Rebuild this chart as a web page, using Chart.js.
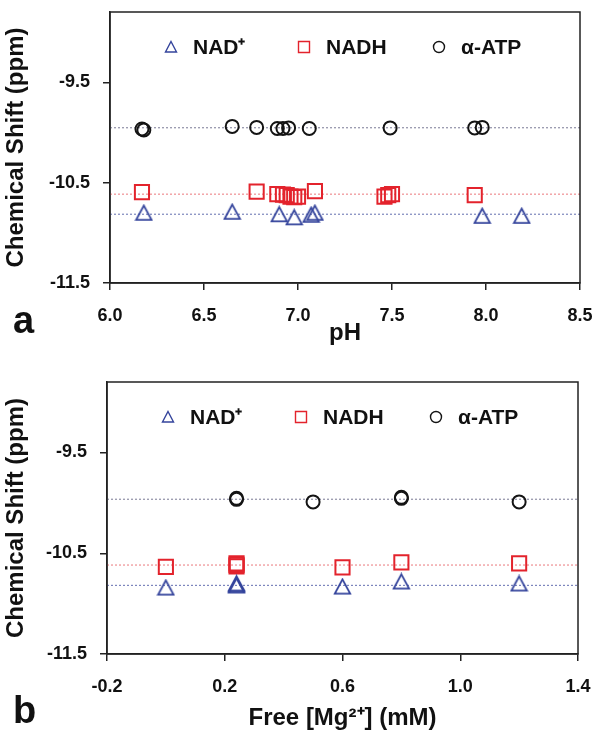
<!DOCTYPE html>
<html>
<head>
<meta charset="utf-8">
<title>Chemical shift vs pH and free Mg2+</title>
<script src="https://cdn.jsdelivr.net/npm/chart.js"></script>
<style>
  body { margin: 0; background: #fff; }
  .panel { position: relative; width: 602px; }
  #panelA { height: 370px; }
  #panelB { height: 371px; }
</style>
</head>
<body>
<div class="panel" id="panelA"><canvas id="chartA"></canvas></div>
<div class="panel" id="panelB"><canvas id="chartB"></canvas></div>
<script>
const FONT = "'Liberation Sans', Arial, sans-serif";

const seriesNames = ['NAD⁺', 'NADH', 'α-ATP'];
const shiftTicks = [-11.5, -10.5, -9.5];

// panel a: pH
const phTicks = [6.0, 6.5, 7.0, 7.5, 8.0, 8.5];
const phNadX = [6.18, 6.65, 6.90, 6.98, 7.07, 7.09, 7.98, 8.19];
const phNadY = [-10.80, -10.79, -10.815, -10.845, -10.82, -10.80, -10.83, -10.83];
const phNadhX = [6.17, 6.78, 6.89, 6.92, 6.94, 6.96, 6.98, 7.00, 7.09, 7.46, 7.48, 7.50, 7.94];
const phNadhY = [-10.595, -10.59, -10.615, -10.62, -10.625, -10.64, -10.645, -10.64, -10.585, -10.64, -10.625, -10.615, -10.625];
const phAtpX = [6.17, 6.18, 6.65, 6.78, 6.89, 6.92, 6.95, 7.06, 7.49, 7.94, 7.98];
const phAtpY = [-9.965, -9.975, -9.94, -9.95, -9.96, -9.96, -9.955, -9.96, -9.955, -9.955, -9.95];
const phMeanLines = [-10.815, -10.615, -9.953]; // NAD+, NADH, ATP

// panel b: free Mg2+
const mgTicks = [-0.2, 0.2, 0.6, 1.0, 1.4];
const mgNadX = [0.0, 0.24, 0.24, 0.24, 0.6, 0.8, 1.2];
const mgNadY = [-10.84, -10.80, -10.82, -10.81, -10.83, -10.78, -10.80];
const mgNadhX = [0.0, 0.24, 0.24, 0.24, 0.6, 0.8, 1.2];
const mgNadhY = [-10.635, -10.60, -10.615, -10.63, -10.64, -10.59, -10.60];
const mgAtpX = [0.24, 0.24, 0.5, 0.8, 0.8, 1.2];
const mgAtpY = [-9.955, -9.965, -9.99, -9.945, -9.955, -9.99];
const mgMeanLines = [-10.819, -10.617, -9.964];

const markColors = ['#34449c', '#e3232c', '#141414'];
const lineColors = ['#7d86bd', '#ee8e92', '#8f8fa6'];

// triangle drawn centred on its box (like the original markers)
function triangleImage(w, h, color, lw) {
  const c = document.createElement('canvas');
  c.width = Math.ceil(w + lw * 2);
  c.height = Math.ceil(h + lw * 2);
  const g = c.getContext('2d');
  g.strokeStyle = color;
  g.lineWidth = lw;
  g.beginPath();
  g.moveTo(c.width / 2, lw);
  g.lineTo(c.width - lw, c.height - lw);
  g.lineTo(lw, c.height - lw);
  g.closePath();
  g.stroke();
  return c;
}
const triMark = triangleImage(15, 13.5, markColors[0], 1.8);

function pts(xs, ys) {
  return xs.map((x, i) => ({ x, y: ys[i] }));
}

function hline(y, x0, x1) {
  return [{ x: x0, y }, { x: x1, y }];
}

// legend inside plot + frame + panel letter
const decorPlugin = {
  id: 'decor',
  afterDraw(chart, args, opts) {
    const ctx = chart.ctx;
    const a = chart.chartArea;
    ctx.save();
    ctx.strokeStyle = '#222';
    ctx.lineWidth = 1.5;
    ctx.strokeRect(a.left, a.top, a.right - a.left, a.bottom - a.top);

    const ly = a.top + 35;
    const offs = [61, 194, 329];
    ctx.lineWidth = 1.4;
    offs.forEach((o, i) => {
      const cx = a.left + o;
      ctx.strokeStyle = markColors[i];
      ctx.beginPath();
      if (i === 0) {
        ctx.moveTo(cx, ly - 5.5);
        ctx.lineTo(cx + 5.5, ly + 5);
        ctx.lineTo(cx - 5.5, ly + 5);
        ctx.closePath();
      } else if (i === 1) {
        ctx.rect(cx - 5.5, ly - 5.5, 11, 11);
      } else {
        ctx.arc(cx, ly, 5.5, 0, Math.PI * 2);
      }
      ctx.stroke();
      ctx.fillStyle = '#111';
      ctx.font = 'bold 21px ' + FONT;
      ctx.textBaseline = 'middle';
      ctx.textAlign = 'left';
      ctx.fillText(seriesNames[i], cx + 22, ly + 1);
    });

    ctx.font = 'bold 38px ' + FONT;
    ctx.textBaseline = 'alphabetic';
    ctx.fillStyle = '#111';
    ctx.fillText(opts.letter, 13, opts.letterY);
    ctx.restore();
  }
};

function makeChart(id, cfg) {
  const datasets = [
    { label: seriesNames[0], data: pts(cfg.nadX, cfg.nadY), pointStyle: triMark, order: 1 },
    { label: seriesNames[1], data: pts(cfg.nadhX, cfg.nadhY), pointStyle: 'rect', pointRadius: 10,
      borderColor: markColors[1], borderWidth: 2, backgroundColor: 'rgba(0,0,0,0)', order: 2 },
    { label: seriesNames[2], data: pts(cfg.atpX, cfg.atpY), pointStyle: 'circle', pointRadius: 6.5,
      borderColor: markColors[2], borderWidth: 2, backgroundColor: 'rgba(0,0,0,0)', order: 3 }
  ];
  cfg.means.forEach((m, i) => {
    datasets.push({
      label: 'mean ' + seriesNames[i],
      data: hline(m, cfg.xTicks[0], cfg.xTicks[cfg.xTicks.length - 1]),
      showLine: true, pointRadius: 0, borderColor: lineColors[i], borderWidth: 1.2,
      borderDash: [2, 2], order: 10
    });
  });

  return new Chart(document.getElementById(id), {
    type: 'scatter',
    data: { datasets },
    options: {
      animation: false,
      responsive: true,
      maintainAspectRatio: false,
      layout: { padding: { top: 8, right: cfg.padRight, left: 0, bottom: 0 } },
      plugins: {
        legend: { display: false },
        tooltip: { enabled: false },
        decor: { letter: cfg.letter, letterY: cfg.letterY }
      },
      scales: {
        x: {
          type: 'linear',
          min: cfg.xTicks[0],
          max: cfg.xTicks[cfg.xTicks.length - 1],
          afterBuildTicks: s => { s.ticks = cfg.xTicks.map(v => ({ value: v })); },
          afterFit: s => {
            s.height = cfg.xHeight;
            s.paddingLeft = 0;
            s.paddingRight = 0;
          },
          ticks: {
            callback: v => Number(v).toFixed(1),
            font: { family: FONT, size: 18, weight: 'bold' },
            color: '#111', padding: 15, maxRotation: 0
          },
          grid: { drawOnChartArea: false, tickLength: 7, color: '#222', lineWidth: 1.5 },
          border: { color: '#222', width: 1.5 },
          title: {
            display: true, text: cfg.xTitle, color: '#111',
            font: { family: FONT, size: 24, weight: 'bold' },
            padding: { top: 0, bottom: cfg.titlePad }
          }
        },
        y: {
          min: -11.5,
          max: -8.8,
          afterBuildTicks: s => { s.ticks = shiftTicks.map(v => ({ value: v })); },
          afterFit: s => {
            s.width = cfg.yWidth;
            s.paddingTop = 0;
            s.paddingBottom = 0;
          },
          ticks: {
            callback: v => Number(v).toFixed(1),
            font: { family: FONT, size: 18, weight: 'bold' },
            color: '#111', padding: 13
          },
          grid: { drawOnChartArea: false, tickLength: 7, color: '#222', lineWidth: 1.5 },
          border: { color: '#222', width: 1.5 },
          title: {
            display: true, text: 'Chemical Shift (ppm)', color: '#111',
            font: { family: FONT, size: 24, weight: 'bold' },
            padding: { top: 2, bottom: 0 }
          }
        }
      }
    },
    plugins: [decorPlugin]
  });
}

makeChart('chartA', {
  nadX: phNadX, nadY: phNadY, nadhX: phNadhX, nadhY: phNadhY, atpX: phAtpX, atpY: phAtpY,
  means: phMeanLines, xTicks: phTicks, xTitle: 'pH',
  yWidth: 110, xHeight: 87, padRight: 22, titlePad: 22, letter: 'a', letterY: 333
});

makeChart('chartB', {
  nadX: mgNadX, nadY: mgNadY, nadhX: mgNadhX, nadhY: mgNadhY, atpX: mgAtpX, atpY: mgAtpY,
  means: mgMeanLines, xTicks: mgTicks, xTitle: 'Free [Mg²⁺] (mM)',
  yWidth: 107, xHeight: 87, padRight: 24, titlePad: 8, letter: 'b', letterY: 353
});
</script>
</body>
</html>
